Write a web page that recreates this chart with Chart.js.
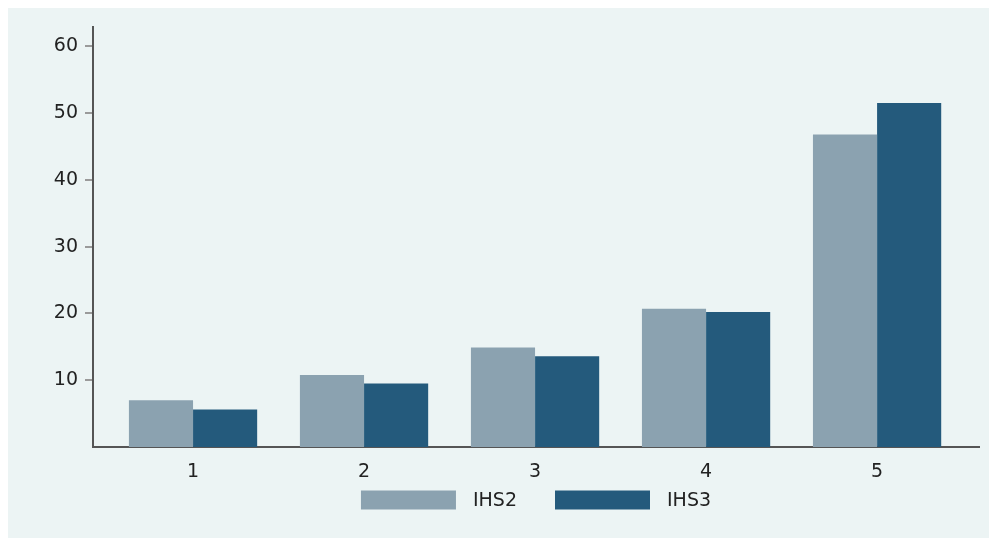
<!DOCTYPE html>
<html>
<head>
<meta charset="utf-8">
<script src="https://cdn.jsdelivr.net/npm/chart.js@4/dist/chart.umd.min.js"></script>
<style>
  html, body { margin: 0; padding: 0; background: #ffffff; }
  #wrap { width: 990px; height: 538px; }
</style>
</head>
<body>
<div id="wrap"><canvas id="c" width="990" height="538"></canvas></div>
<script>
const categories = [1, 2, 3, 4, 5];
const seriesNames = ['IHS2', 'IHS3'];
const ihs2 = [7.0, 10.8, 14.9, 20.7, 46.8];
const ihs3 = [5.6, 9.5, 13.6, 20.2, 51.5];
const yTicks = [10, 20, 30, 40, 50, 60];
const colors = ['#8ba2b0', '#245a7c'];

const FONT = { family: 'DejaVu Sans', size: 19 };

const bgPlugin = {
  id: 'bg',
  beforeDraw(chart) {
    const ctx = chart.ctx;
    ctx.save();
    ctx.fillStyle = '#ffffff';
    ctx.fillRect(0, 0, chart.width, chart.height);
    ctx.fillStyle = '#ecf4f4';
    ctx.fillRect(8, 8, chart.width - 9, chart.height - 8);
    ctx.restore();
  }
};

const legendPlugin = {
  id: 'customLegend',
  afterDraw(chart) {
    const ctx = chart.ctx;
    const ca = chart.chartArea;
    const boxW = 95, boxH = 19, gapText = 17, gapItem = 38;
    ctx.save();
    ctx.font = FONT.size + 'px ' + FONT.family;
    const widths = chart.data.datasets.map(d => boxW + gapText + ctx.measureText(d.label).width);
    const total = widths.reduce((a, b) => a + b, 0) + gapItem * (widths.length - 1);
    let x = (ca.left + ca.right) / 2 - total / 2;
    const cy = 500;
    chart.data.datasets.forEach((d, i) => {
      ctx.fillStyle = d.backgroundColor;
      ctx.fillRect(x, cy - boxH / 2, boxW, boxH);
      ctx.fillStyle = '#222222';
      ctx.textBaseline = 'middle';
      ctx.textAlign = 'left';
      ctx.fillText(d.label, x + boxW + gapText, cy + 1);
      x += widths[i] + gapItem;
    });
    ctx.restore();
  }
};

const datasets = [ihs2, ihs3].map((vals, i) => ({
  label: seriesNames[i],
  data: categories.map((c, j) => ({ x: c, y: vals[j] })),
  backgroundColor: colors[i],
  borderWidth: 0,
  barPercentage: 1.0,
  categoryPercentage: 0.75
}));

new Chart(document.getElementById('c'), {
  type: 'bar',
  data: { datasets },
  options: {
    responsive: false,
    animation: false,
    devicePixelRatio: 1,
    layout: { padding: { left: 8, right: 11, top: 27, bottom: 60 } },
    plugins: {
      legend: { display: false },
      tooltip: { enabled: false }
    },
    scales: {
      x: {
        type: 'linear',
        min: 0.415,
        max: 5.596,
        offset: false,
        afterBuildTicks: (axis) => { axis.ticks = categories.map(v => ({ value: v })); },
        afterFit: (axis) => { axis.height = 31; },
        grid: { display: false },
        border: { display: true, color: '#555555', width: 2 },
        ticks: {
          color: '#222222',
          font: FONT,
          padding: 6,
          maxRotation: 0,
          autoSkip: false,
          callback: (v) => String(v)
        }
      },
      y: {
        min: 0,
        max: 62.9,
        afterBuildTicks: (axis) => { axis.ticks = yTicks.map(v => ({ value: v })); },
        afterFit: (axis) => { axis.width = 85; },
        grid: {
          display: true,
          drawOnChartArea: false,
          drawTicks: true,
          tickLength: 8,
          color: '#9a9a9a',
          lineWidth: 2
        },
        border: { display: true, color: '#555555', width: 2 },
        ticks: {
          color: '#222222',
          font: FONT,
          padding: 7,
          autoSkip: false,
          callback: (v) => String(v)
        }
      }
    }
  },
  plugins: [bgPlugin, legendPlugin]
});
</script>
</body>
</html>
